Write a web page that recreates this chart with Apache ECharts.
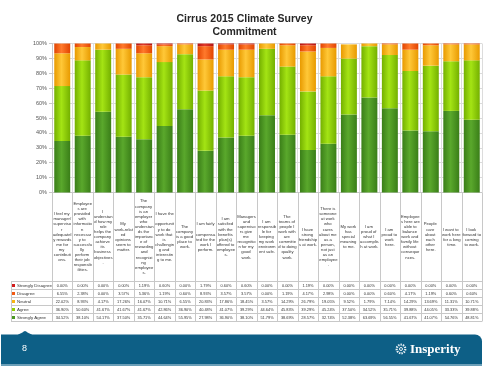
<!DOCTYPE html>
<html><head><meta charset="utf-8">
<script src="https://cdn.jsdelivr.net/npm/echarts@6/dist/echarts.min.js"></script>
<style>html,body{margin:0;padding:0;background:#fff}#c{width:489px;height:366px}</style>
</head><body><div id="c"></div>
<script>
const categories = [
  "I feel my manager/supervisor adequately rewards me for my contributions.",
  "Employees are provided with information necessary to successfully perform their job responsibilities.",
  "I understand how my role helps the company achieve its business objectives.",
  "My work-related opinions seem to matter.",
  "The company is an employer who understands the importance of rewarding and recognizing employees.",
  "I have the opportunity to do work that is challenging and interesting to me.",
  "The company is a good place to work.",
  "I am fairly compensated for the work I perform.",
  "I am satisfied with the benefits plan(s) offered to employees.",
  "Managers and supervisors give me recognition for my good work.",
  "I am responsible for keeping my work environment safe.",
  "The teams of people I work with are committed to doing quality work.",
  "I have strong friendships at work.",
  "There is someone at work who cares about me as a person, not just as an employee.",
  "My work has special meaning to me.",
  "I am proud of what I accomplish at work.",
  "I am proud to work here.",
  "Employees here are able to balance work and family life without consequences.",
  "People care about each other here.",
  "I want to work here for a long time.",
  "I look forward to coming to work."
];
const seriesNames = ["Strongly Disagree", "Disagree", "Neutral", "Agree", "Strongly Agree"];
const stronglyDisagree = [0,0,0,0,1.19,0.60,0,1.79,0.60,0.60,0,0,1.19,0,0,0,0,0,0,0,0];
const disagree = [6.55,2.38,0,3.57,5.36,1.19,0.60,8.93,3.57,3.57,0,1.19,4.17,2.98,0,0,0.60,4.17,1.19,0.60,0.60];
const neutral = [22.02,8.93,4.17,17.26,16.07,10.71,6.55,20.83,17.86,18.45,3.57,14.29,26.79,19.05,9.52,1.79,7.14,14.29,13.69,11.31,10.71];
const agree = [36.90,50.60,41.67,41.67,41.67,42.86,36.90,40.48,41.07,39.29,44.64,45.83,39.29,45.24,37.50,34.52,35.71,39.88,44.05,33.33,39.88];
const stronglyAgree = [34.52,38.10,54.17,37.50,35.71,44.64,55.95,27.98,36.90,38.10,51.79,38.69,28.57,32.74,52.38,63.69,56.55,41.67,41.07,54.76,48.81];
const yMin = 0, yMax = 100, yInterval = 10;
const titleLines = ["Cirrus 2015 Climate Survey", "Commitment"];
const pageNumber = "8";
const brand = "Insperity";

// styles
const FONT = "Liberation Sans";
const palette = {
  "Strongly Disagree": ["#b21212", "#e23a2a", "#b21212"],
  "Disagree": ["#e24400", "#ff7a2c", "#e24400"],
  "Neutral": ["#e89a00", "#ffc838", "#e89a00"],
  "Agree": ["#74b000", "#a4e414", "#74b000"],
  "Strongly Agree": ["#3a7e18", "#5aa82c", "#3a7e18"]
};
const solid = {
  "Strongly Disagree": "#d21c1c", "Disagree": "#f25a14", "Neutral": "#f8b410",
  "Agree": "#92d000", "Strongly Agree": "#4a9822"
};
function grad(n) {
  const c = palette[n];
  return new echarts.graphic.LinearGradient(0, 0, 1, 0, [
    {offset: 0, color: c[0]}, {offset: 0.45, color: c[1]}, {offset: 1, color: c[2]}
  ]);
}
const valuesByName = {
  "Strongly Disagree": stronglyDisagree, "Disagree": disagree, "Neutral": neutral,
  "Agree": agree, "Strongly Agree": stronglyAgree
};

// layout
const W = 489, H = 366;
const gL = 52, gR = 482, gT = 43.5, gB = 192.5;
const rowTop = 281.5, rowH = 8, tableLeft = 11;
const lineColor = "#c8c8c8";

const chart = echarts.init(document.getElementById('c'), null, {renderer: 'canvas'});

const stackOrder = ["Strongly Agree", "Agree", "Neutral", "Disagree", "Strongly Disagree"];
const series = stackOrder.map(n => ({
  name: n, type: 'bar', stack: 'total', xAxisIndex: 0, yAxisIndex: 0,
  barCategoryGap: '22%',
  data: valuesByName[n],
  itemStyle: {color: grad(n)},
  emphasis: {disabled: true},
  animation: false
}));

const xAxes = [{
  type: 'category', gridIndex: 0, data: categories, position: 'bottom',
  axisLine: {show: true, lineStyle: {color: lineColor, width: 1}},
  axisTick: {show: false},
  splitLine: {show: true, interval: 0, lineStyle: {color: '#dcdcdc', width: 1}},
  axisLabel: {
    interval: 0, margin: 44.5, verticalAlign: 'middle', align: 'center',
    width: 19, overflow: 'break', fontSize: 4.2, lineHeight: 5.1,
    color: '#333', fontFamily: FONT
  }
}];
seriesNames.forEach((n, r) => {
  const vals = valuesByName[n];
  xAxes.push({
    type: 'category', gridIndex: 0, data: categories, position: 'bottom',
    offset: rowTop + rowH * r + rowH / 2 - gB,
    axisLine: {show: false}, axisTick: {show: false}, splitLine: {show: false},
    axisLabel: {
      interval: 0, margin: 0, verticalAlign: 'middle', align: 'center',
      fontSize: 3.9, color: '#333', fontFamily: FONT,
      formatter: (v, i) => vals[i].toFixed(2) + '%'
    }
  });
});

// table lines (layout only)
const graphics = [];
function hline(x1, x2, y) {
  graphics.push({type: 'line', silent: true, shape: {x1, y1: y, x2, y2: y},
    style: {stroke: lineColor, lineWidth: 1}});
}
function vline(x, y1, y2) {
  graphics.push({type: 'line', silent: true, shape: {x1: x, y1, x2: x, y2},
    style: {stroke: lineColor, lineWidth: 1}});
}
const n = categories.length;
const cw = (gR - gL) / n;
for (let r = 0; r <= seriesNames.length; r++) hline(tableLeft, gR, rowTop + r * rowH);
for (let k = 0; k <= n; k++) vline(Math.round(gL + k * cw) + 0.5, gB, rowTop + seriesNames.length * rowH);
vline(tableLeft + 0.5, rowTop, rowTop + seriesNames.length * rowH);

// footer
const fTop = 334.5, fBot = 364;
graphics.push({type: 'rect', silent: true, shape: {x: 1, y: fTop, width: 481, height: fBot - fTop, r: [0, 7, 0, 0]},
  style: {fill: '#0d5f86'}});
graphics.push({type: 'polygon', silent: true, shape: {points: [[18, fTop + 0.5], [22.5, fTop - 2], [25, fTop - 3.5], [27.5, fTop - 2], [32, fTop + 0.5]], smooth: 0.3},
  style: {fill: '#0d5f86'}});
graphics.push({type: 'rect', silent: true, shape: {x: 1, y: fBot, width: 481, height: 2},
  style: {fill: '#6b9fb8'}});
graphics.push({type: 'text', silent: true, x: 22, y: 349, style: {text: pageNumber, fill: '#fff', font: '9px ' + FONT, textVerticalAlign: 'middle'}});
graphics.push({type: 'circle', silent: true, shape: {cx: 401, cy: 349, r: 4.3},
  style: {fill: 'none', stroke: '#e8f0f5', lineWidth: 2.2, lineDash: [1.4, 1]}});
graphics.push({type: 'circle', silent: true, shape: {cx: 401, cy: 349, r: 1.5},
  style: {fill: 'none', stroke: '#e8f0f5', lineWidth: 1}});
graphics.push({type: 'text', silent: true, x: 410, y: 349.5,
  style: {text: brand, fill: '#fff', font: 'bold 13px "Liberation Serif"', textVerticalAlign: 'middle'}});

const option = {
  animation: false,
  backgroundColor: '#fff',
  title: {
    text: titleLines.join('\n'), left: 'center', top: 7,
    textStyle: {fontFamily: FONT, fontWeight: 'bold', fontSize: 10.5, lineHeight: 13.7, color: '#262626'}
  },
  grid: {left: gL, right: W - gR, top: gT, bottom: H - gB, containLabel: false},
  legend: {
    orient: 'vertical', left: 12, top: rowTop, itemGap: 0, itemWidth: 3, itemHeight: 3,
    selectedMode: false, padding: 0, icon: 'rect',
    data: seriesNames.map(nm => ({name: nm, itemStyle: {color: solid[nm]}})),
    textStyle: {fontSize: 4.4, lineHeight: rowH, color: '#333', fontFamily: FONT, padding: [0, 0, 0, -3]}
  },
  xAxis: xAxes,
  yAxis: {
    type: 'value', min: yMin, max: yMax, interval: yInterval,
    axisLine: {show: true, lineStyle: {color: lineColor}},
    axisTick: {show: true, length: 3, lineStyle: {color: lineColor}},
    splitLine: {show: true, lineStyle: {color: '#dcdcdc'}},
    axisLabel: {formatter: '{value}%', fontSize: 5.5, color: '#555', fontFamily: FONT, margin: 5}
  },
  series: series,
  graphic: graphics
};
chart.setOption(option);
</script>
</body></html>
